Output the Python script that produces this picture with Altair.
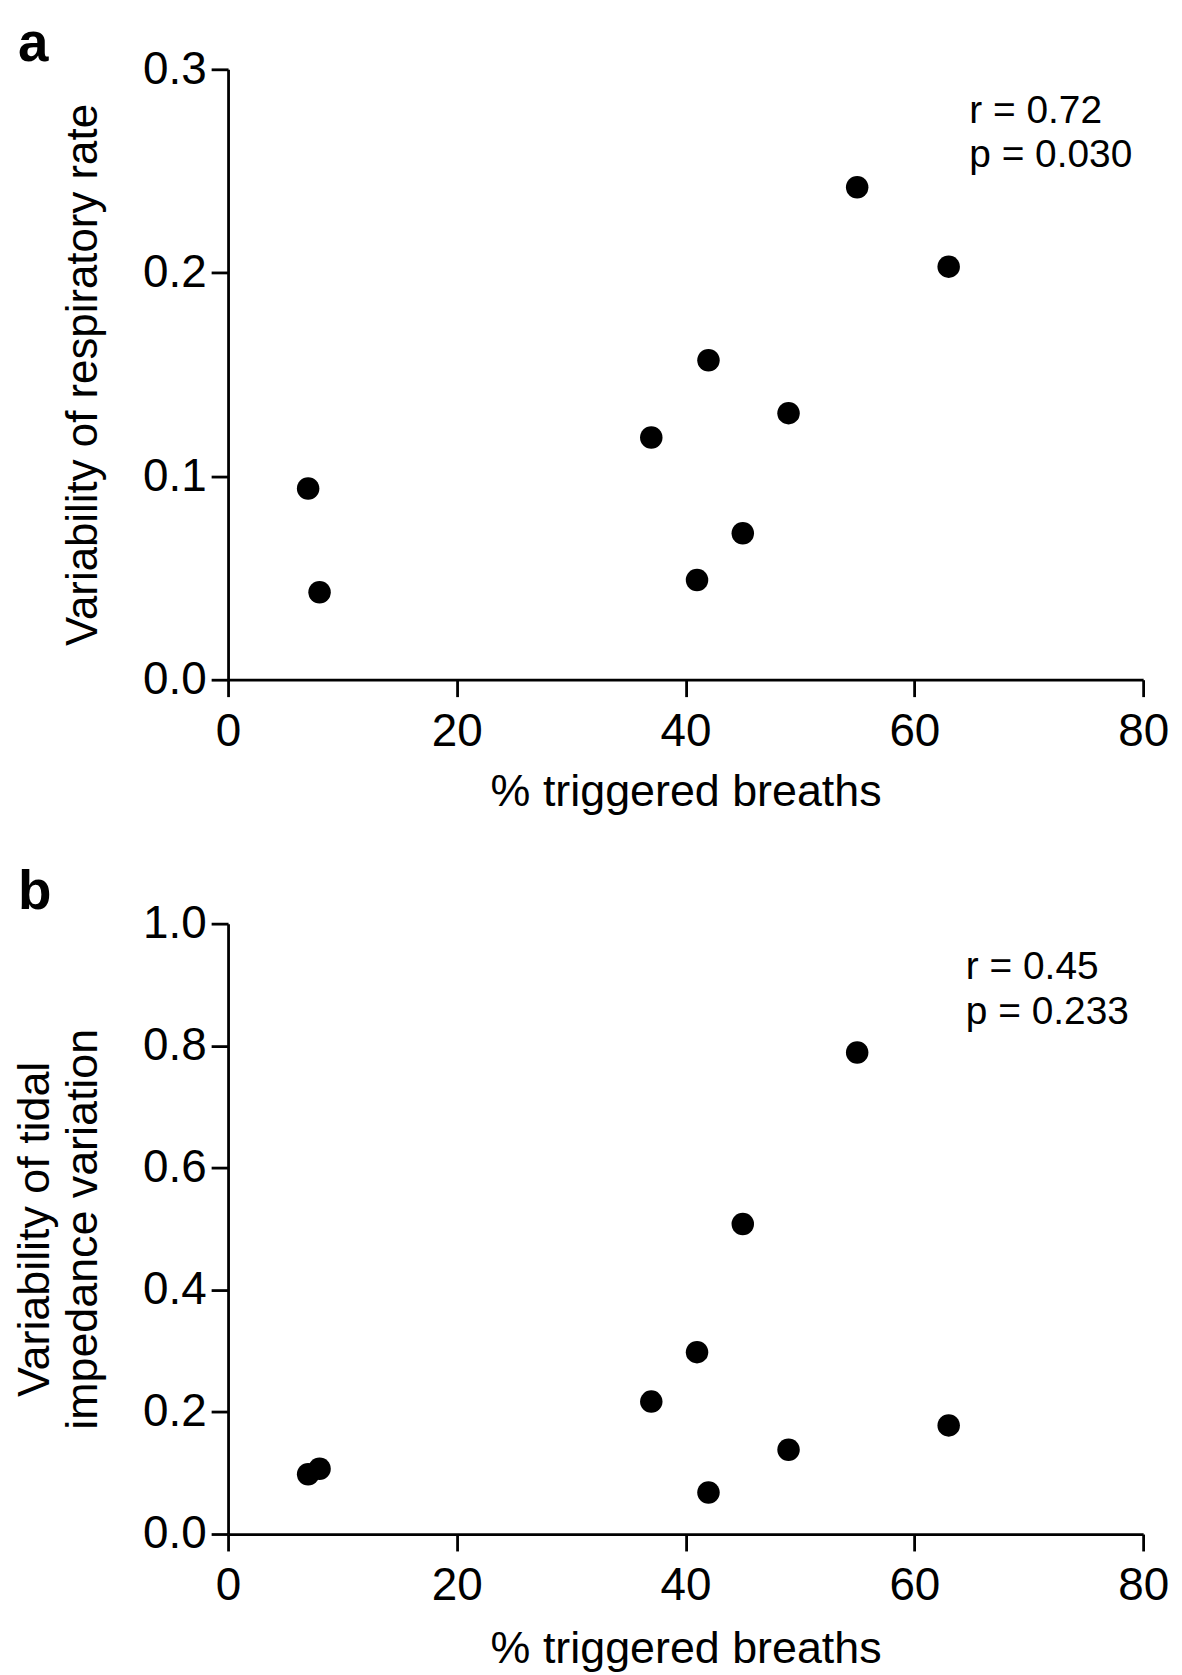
import altair as alt
import pandas as pd

# ---- data ----
triggered = [7, 8, 37, 41, 42, 45, 49, 55, 63]
var_rr = [0.094, 0.043, 0.119, 0.049, 0.157, 0.072, 0.131, 0.242, 0.203]
var_tiv = [0.098, 0.107, 0.217, 0.298, 0.068, 0.508, 0.138, 0.789, 0.178]

x_ticks = [0, 20, 40, 60, 80]
a_y_ticks = [0.0, 0.1, 0.2, 0.3]
b_y_ticks = [0.0, 0.2, 0.4, 0.6, 0.8, 1.0]

a_stats = ["r = 0.72", "p = 0.030"]
a_stats_x = [64.8, 64.8]
a_stats_y = [0.2736, 0.252]
b_stats = ["r = 0.45", "p = 0.233"]
b_stats_x = [64.5, 64.5]
b_stats_y = [0.909, 0.836]

FONT = "Liberation Sans"
W, H = 919, 613


def panel(yvals, ydomain, yticks, ytitle, ytitle_size, stats, sx, sy, letter, letter_y, xtp):
    df = pd.DataFrame({"x": triggered, "y": yvals})
    x = alt.X(
        "x:Q",
        scale=alt.Scale(domain=[0, 80], nice=False, zero=False),
        axis=alt.Axis(values=x_ticks, format="d", title="% triggered breaths",
                      labelPadding=13, titlePadding=xtp, labelFlush=False),
    )
    y = alt.Y(
        "y:Q",
        scale=alt.Scale(domain=ydomain, nice=False),
        axis=alt.Axis(values=yticks, format=".1f", title=ytitle,
                      labelPadding=5, titlePadding=37, labelFlush=False,
                      titleLineHeight=48, titleFontSize=ytitle_size),
    )
    pts = alt.Chart(df).mark_circle(size=510, color="black", opacity=1).encode(x=x, y=y)
    sdf = pd.DataFrame({"x": sx, "y": sy, "t": stats})
    txt = alt.Chart(sdf).mark_text(
        align="left", baseline="alphabetic", fontSize=39, font=FONT, color="black"
    ).encode(x="x:Q", y="y:Q", text="t:N")
    lab = alt.Chart(pd.DataFrame({"t": [letter]})).mark_text(
        align="left", baseline="alphabetic", fontSize=55, fontWeight="bold",
        font=FONT, color="black"
    ).encode(x=alt.value(-211), y=alt.value(letter_y), text="t:N")
    # invisible spacer that reserves the top margin above panel a
    spacer = alt.Chart(pd.DataFrame({"v": [0]})).mark_rule(strokeOpacity=0).encode(
        x=alt.value(0), x2=alt.value(1), y=alt.value(-57.5), y2=alt.value(-57.5)
    )
    return alt.layer(pts, txt, lab, spacer).properties(width=W, height=H)


a = panel(var_rr, [0, 0.3], a_y_ticks, "Variability of respiratory rate", 44,
          a_stats, a_stats_x, a_stats_y, "a", -8, 15)
b = panel(var_tiv, [0, 1.0], b_y_ticks, ["Variability of tidal", "impedance variation"], 45,
          b_stats, b_stats_x, b_stats_y, "b", -14.5, 18)

chart = (
    alt.vconcat(a, b, spacing=245, bounds="flush")
    .properties(padding={"left": 5, "top": 0, "right": 5, "bottom": 0})
    .configure_axis(
        domainColor="black", domainWidth=2.8, tickColor="black", tickWidth=2.8,
        tickSize=17, labelColor="black", titleColor="black", labelFont=FONT,
        titleFont=FONT, labelFontSize=46, titleFontSize=45,
        titleFontWeight="normal", grid=False,
    )
    .configure_view(stroke=None)
)

chart.save("out.html", embed_options={"renderer": "svg", "actions": False})
